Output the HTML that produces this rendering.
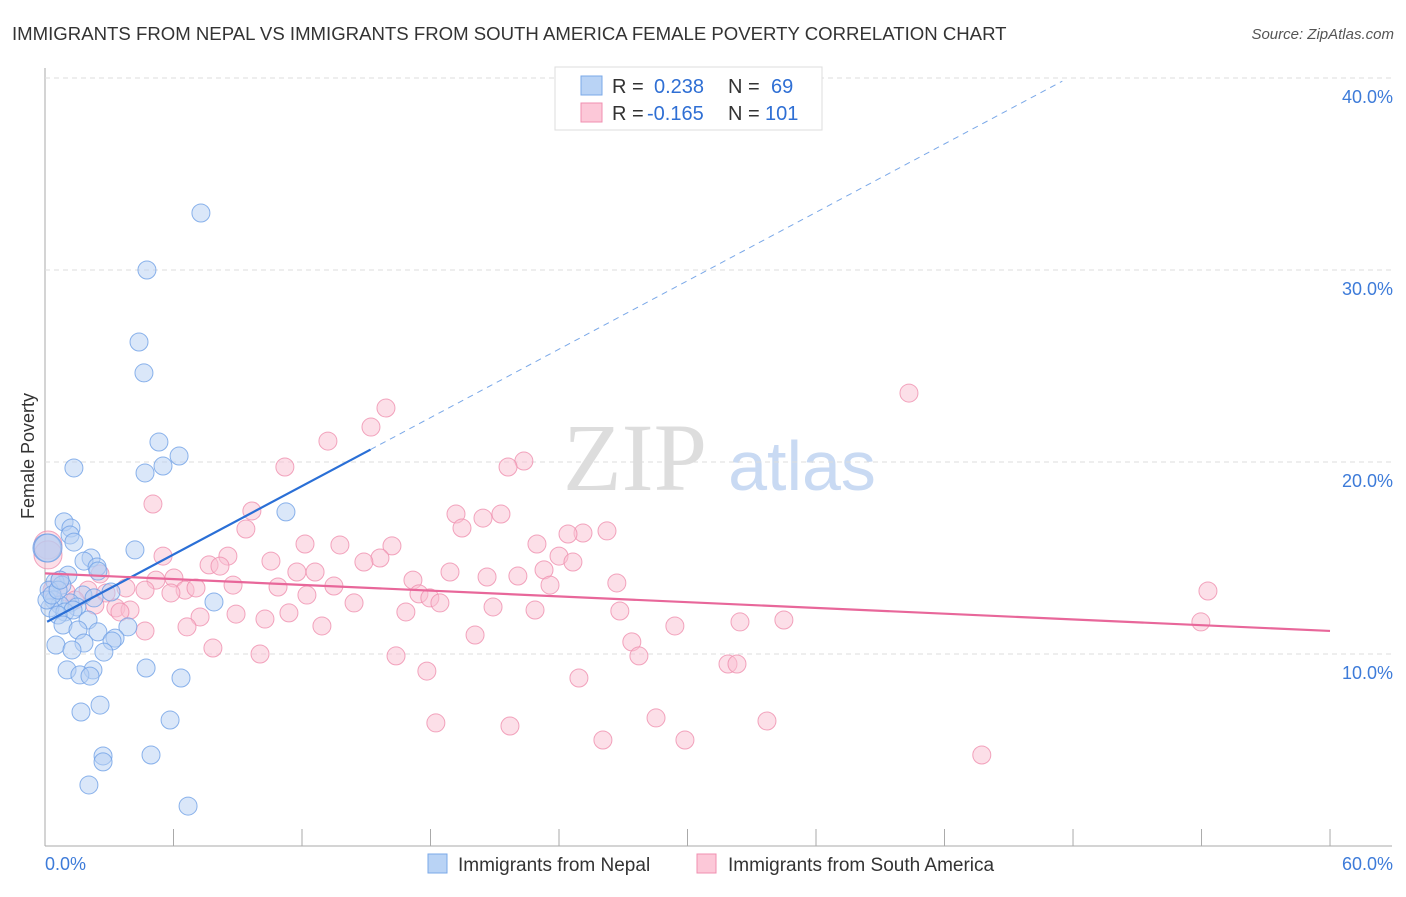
<!DOCTYPE html>
<html><head><meta charset="utf-8"><style>
body{margin:0;background:#fff;font-family:"Liberation Sans",sans-serif}
svg text{font-family:"Liberation Sans",sans-serif}
</style></head><body>
<svg width="1406" height="892" id="c">
<text x="12" y="40" font-size="18.6" fill="#333">IMMIGRANTS FROM NEPAL VS IMMIGRANTS FROM SOUTH AMERICA FEMALE POVERTY CORRELATION CHART</text>
<text x="1394" y="39" font-size="15" fill="#555" font-style="italic" text-anchor="end">Source: ZipAtlas.com</text>
<text x="635" y="490" font-size="96" fill="#ddd" text-anchor="middle" style="font-family:'Liberation Serif',serif">ZIP</text>
<text x="802" y="490" font-size="70" fill="#c9daf3" text-anchor="middle">atlas</text>
<text x="34" y="456" font-size="18" fill="#333" text-anchor="middle" transform="rotate(-90 34 456)">Female Poverty</text>
<g id="grid"></g><g id="pts"></g><g id="lines"></g>
<g>
<rect x="555" y="67" width="267" height="63" fill="#fff" stroke="#ddd"/>
<rect x="581" y="76" width="21" height="19" fill="#b9d3f5" stroke="#7aa8e8"/>
<rect x="581" y="103" width="21" height="19" fill="#fcc8d8" stroke="#f08fb0"/>
<text x="612" y="93" font-size="20" fill="#333">R = </text><text x="654" y="93" font-size="20" fill="#2f6fd4">0.238</text>
<text x="728" y="93" font-size="20" fill="#333">N = </text><text x="771" y="93" font-size="20" fill="#2f6fd4">69</text>
<text x="612" y="120" font-size="20" fill="#333">R = </text><text x="647" y="120" font-size="20" fill="#2f6fd4">-0.165</text>
<text x="728" y="120" font-size="20" fill="#333">N = </text><text x="765" y="120" font-size="20" fill="#2f6fd4">101</text>
</g>
<g>
<rect x="428" y="854" width="19" height="19" fill="#b9d3f5" stroke="#7aa8e8"/>
<text x="458" y="871" font-size="19" fill="#333">Immigrants from Nepal</text>
<rect x="697" y="854" width="19" height="19" fill="#fcc8d8" stroke="#f08fb0"/>
<text x="728" y="871" font-size="19" fill="#333">Immigrants from South America</text>
</g>
<text x="45" y="870" font-size="18" fill="#3d7bd9">0.0%</text>
<text x="1393" y="870" font-size="18" fill="#3d7bd9" text-anchor="end">60.0%</text>
</svg>
<script>
const blueX=[7.28,4.76,4.39,4.62,5.32,6.26,5.51,4.67,1.35,11.25,0.89,1.21,1.17,1.35,0.09,4.2,2.15,1.82,2.43,2.47,1.07,0.47,0.79,0.19,3.08,1.77,2.29,0.42,1.17,0.7,1.49,0.23,0.93,1.31,7.89,0.61,2.01,0.84,3.87,1.54,2.47,3.27,3.13,1.82,0.51,1.26,2.75,1.03,2.24,4.72,1.63,2.1,6.35,2.57,1.68,5.84,2.71,2.71,4.95,2.05,6.68,0.14,0.09,0.33,0.61,0.7];
const blueY=[32.97,30.0,26.25,24.64,21.04,20.31,19.79,19.43,19.69,17.4,16.88,16.56,16.2,15.83,15.52,15.42,15.0,14.84,14.53,14.32,14.11,13.75,13.59,13.33,13.23,13.07,12.92,12.81,12.66,12.55,12.45,12.4,12.19,12.29,12.71,12.03,11.77,11.51,11.41,11.25,11.15,10.83,10.68,10.57,10.47,10.21,10.1,9.17,9.17,9.27,8.91,8.85,8.75,7.34,6.98,6.56,4.69,4.38,4.74,3.18,2.08,15.52,12.81,13.07,13.33,13.85];
const pinkX=[40.34,15.92,13.21,15.22,22.36,21.62,11.2,5.04,9.66,9.38,19.19,20.45,21.29,19.47,26.24,25.12,24.42,22.97,12.14,13.77,16.2,5.51,8.54,24.0,15.64,14.89,10.55,7.66,8.17,24.65,0.14,23.3,11.76,12.61,2.57,6.02,20.64,22.08,18.91,17.18,5.18,8.78,23.58,26.7,10.88,13.49,6.54,7.05,3.78,4.67,5.88,17.46,17.97,12.23,0.33,0.98,2.01,2.85,14.43,18.44,20.92,22.88,26.84,16.85,8.92,11.39,10.27,3.31,3.97,7.24,12.93,6.63,4.67,20.08,29.41,32.45,34.5,53.97,54.3,27.4,27.73,7.84,10.04,16.39,17.83,31.89,32.31,24.93,18.25,21.71,28.53,33.71,26.05,29.88,43.74,1.4,2.33,3.5,0.7,0.14];
const pinkY=[23.59,22.81,21.09,21.82,20.05,19.74,19.74,17.81,17.45,16.51,17.29,17.08,17.29,16.56,16.41,16.3,16.25,15.73,15.73,15.68,15.63,15.1,15.1,15.1,15.0,14.79,14.84,14.64,14.58,14.79,15.68,14.38,14.27,14.27,14.17,13.96,14.01,14.06,14.27,13.85,13.85,13.59,13.59,13.7,13.49,13.54,13.33,13.44,13.44,13.33,13.18,13.13,12.92,13.07,13.33,13.23,13.33,13.18,12.66,12.66,12.45,12.29,12.24,12.19,12.08,12.14,11.82,12.4,12.29,11.93,11.46,11.41,11.2,10.99,11.46,11.67,11.77,11.67,13.28,10.63,9.9,10.31,10.0,9.9,9.11,9.48,9.48,8.75,6.41,6.25,6.67,6.51,5.52,5.52,4.74,12.81,12.55,12.19,13.85,15.16];
const yTicks=[10,20,30,40];
const yTickLabels=["10.0%","20.0%","30.0%","40.0%"];
const xTicks=[0,6,12,18,24,30,36,42,48,54,60];
const blueTrend={a:11.62,b:0.594,solidEnd:15.2,dashEnd:47.5};
const pinkTrend={a:14.2,b:-0.05,end:60};
const X=v=>45+v*21.417, Y=v=>846-v*19.2;
const NS="http://www.w3.org/2000/svg";
function mk(t,a,p){const e=document.createElementNS(NS,t);for(const k in a)e.setAttribute(k,a[k]);p.appendChild(e);return e;}
const grid=document.getElementById('grid'),pts=document.getElementById('pts'),lines=document.getElementById('lines');
let ax=mk('line',{x1:45,y1:68,x2:45,y2:846,stroke:'#aaa'},grid);


let bx=mk('line',{x1:45,y1:846,x2:1392,y2:846,stroke:'#aaa'},grid);


yTicks.forEach((t,i)=>{
 let g=mk('line',{x1:45,y1:Y(t),x2:1392,y2:Y(t),stroke:'#ddd','stroke-dasharray':'5,4'},grid);
 
 
 let l=mk('text',{x:1393,y:Y(t)+25,'font-size':18,fill:'#3d7bd9','text-anchor':'end'},grid);
 l.textContent=yTickLabels[i];
 
 
});
xTicks.forEach(t=>{
 let k=mk('line',{x1:X(t),y1:829,x2:X(t),y2:846,stroke:'#aaa'},grid);
 
 
});
function dots(xs,ys,fill,stroke,name){
 xs.forEach((x,i)=>{
  const big=(x<0.2&&ys[i]>15);
  let c=mk('circle',{cx:X(x),cy:Y(ys[i]),r:big?14:9,fill:fill,'fill-opacity':0.5,stroke:stroke,'stroke-opacity':0.8,'stroke-width':1},pts);
  
  
 });
}
dots(pinkX,pinkY,'#f9bfd1','#ef8fae','south-america-point');
dots(blueX,blueY,'#b5d0f3','#6fa0e6','nepal-point');
let b1=mk('line',{x1:X(0.1),y1:Y(blueTrend.a+blueTrend.b*0.1),x2:X(blueTrend.solidEnd),y2:Y(blueTrend.a+blueTrend.b*blueTrend.solidEnd),stroke:'#2a6fd6','stroke-width':2.2},lines);


let b2=mk('line',{x1:X(blueTrend.solidEnd),y1:Y(blueTrend.a+blueTrend.b*blueTrend.solidEnd),x2:X(blueTrend.dashEnd),y2:Y(blueTrend.a+blueTrend.b*blueTrend.dashEnd),stroke:'#7aa8e8','stroke-width':1,'stroke-dasharray':'6,5'},lines);


let p1=mk('line',{x1:X(0),y1:Y(pinkTrend.a),x2:X(pinkTrend.end),y2:Y(pinkTrend.a+pinkTrend.b*pinkTrend.end),stroke:'#e8679a','stroke-width':2.2},lines);


</script>
</body></html>
